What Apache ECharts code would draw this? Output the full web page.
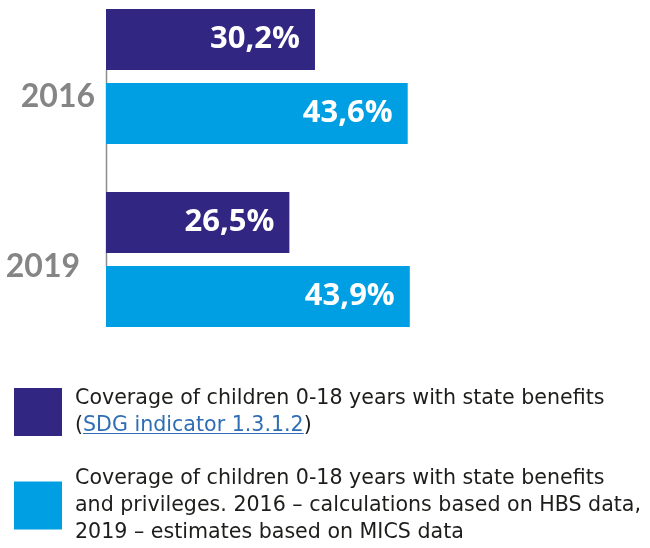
<!DOCTYPE html>
<html>
<head>
<meta charset="utf-8">
<script src="https://cdn.jsdelivr.net/npm/echarts@6/dist/echarts.min.js"></script>
<style>
  html, body { margin: 0; padding: 0; background: #fff; }
  #chart { width: 650px; height: 548px; }
</style>
</head>
<body>
<div id="chart"></div>
<script>
// categories and values
const years = ['2016', '2019'];
const benefitsOnly = [30.2, 26.5];
const benefitsAndPrivileges = [43.6, 43.9];
const seriesNames = [
  'Coverage of children 0-18 years with state benefits (SDG indicator 1.3.1.2)',
  'Coverage of children 0-18 years with state benefits and privileges. 2016 – calculations based on HBS data, 2019 – estimates based on MICS data'
];
const linkText = 'SDG indicator 1.3.1.2';
// legend text, split in lines as in the picture
const legendText = {};
legendText[seriesNames[0]] = 'Coverage of children 0-18 years with state benefits\n({l|' + linkText + '})';
legendText[seriesNames[1]] = 'Coverage of children 0-18 years with state benefits\nand privileges. 2016 – calculations based on HBS data,\n2019 – estimates based on MICS data';

const dark = '#312783';
const light = '#009fe3';
const linkColor = '#2f6db5';

const myChart = echarts.init(document.getElementById('chart'));

// label per year: the two year labels don't sit at the same spot
const yearLabel = {
  '2016': '{a|2016}',
  '2019': '{b|2019}'
};

const valueLabel = {
  show: true,
  position: 'insideRight',
  distance: 15,
  color: '#fff',
  fontFamily: 'Open Sans',
  fontWeight: 'bold',
  fontSize: 31,
  formatter: (p) => p.value.toFixed(1).replace('.', ',') + '%'
};

const legendFont = 'DejaVu Sans';
const legendSize = 20.6;
const legendLeft = 14;
const swatch = 48;
const textPad = 8;
const legendTextStyle = {
  fontFamily: legendFont,
  fontSize: legendSize,
  lineHeight: 27,
  color: '#1d1d1b',
  padding: [0, 0, 0, textPad],
  rich: {
    l: { fontFamily: legendFont, fontSize: legendSize, lineHeight: 27, color: linkColor }
  }
};

function makeLegend(name, top) {
  return {
    orient: 'vertical',
    left: legendLeft,
    top: top,
    padding: 0,
    icon: 'rect',
    itemWidth: swatch,
    itemHeight: swatch,
    selectedMode: false,
    formatter: (n) => legendText[n],
    textStyle: legendTextStyle,
    data: [name]
  };
}

// measure the link text so the underline fits it
const ctx = document.createElement('canvas').getContext('2d');
ctx.font = legendSize + 'px "' + legendFont + '"';
const linkX = legendLeft + swatch + 5 + textPad + ctx.measureText('(').width;
const linkW = ctx.measureText(linkText).width;

const option = {
  animation: false,
  grid: { left: 106, top: -15, width: 346, height: 366, outerBoundsMode: 'none' },
  xAxis: {
    type: 'value',
    min: 0,
    max: 50,
    show: false
  },
  yAxis: {
    type: 'category',
    inverse: true,
    data: years,
    axisLine: { show: false },
    axisTick: { show: false },
    splitLine: { show: false },
    axisLabel: {
      margin: 11,
      formatter: (v) => yearLabel[v],
      rich: {
        a: {
          fontFamily: 'Lato', fontWeight: 'bold', fontSize: 32, color: '#858585',
          padding: [40, 0, 0, 0]
        },
        b: {
          fontFamily: 'Lato', fontWeight: 'bold', fontSize: 32, color: '#858585',
          padding: [14, 15, 0, 0]
        }
      }
    }
  },
  legend: [
    makeLegend(seriesNames[0], 385),
    makeLegend(seriesNames[1], 465)
  ],
  graphic: [
    // thin grey axis line, seen only between the bars
    { type: 'line', shape: { x1: 106.5, y1: 70, x2: 106.5, y2: 266 },
      style: { stroke: '#8c8c8c', lineWidth: 1.5 }, z: 0 },
    // underline of the link text in the legend
    { type: 'rect', shape: { x: linkX, y: 433, width: linkW, height: 1 },
      style: { fill: linkColor }, z: 10 }
  ],
  series: [
    {
      name: seriesNames[0],
      type: 'bar',
      data: benefitsOnly,
      barWidth: 61,
      barGap: '21%',
      itemStyle: { color: dark },
      label: valueLabel
    },
    {
      name: seriesNames[1],
      type: 'bar',
      data: benefitsAndPrivileges,
      barWidth: 61,
      itemStyle: { color: light },
      label: valueLabel
    }
  ]
};

myChart.setOption(option);
</script>
</body>
</html>
